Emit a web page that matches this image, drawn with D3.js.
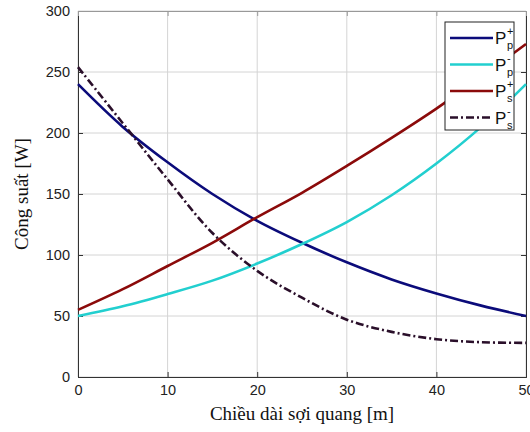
<!DOCTYPE html>
<html>
<head>
<meta charset="utf-8">
<script src="https://cdn.jsdelivr.net/npm/d3@7"></script>
<style>
  body { margin: 0; background: #fff; }
  .tick text { font-family: "Liberation Sans", Arial, sans-serif; font-size: 14.5px; fill: #222; }
</style>
</head>
<body>
<div id="chart"></div>
<script>
// fibre length [m]
var lengths = [0, 5, 10, 15, 20, 25, 30, 35, 40, 45, 50];
// power [W]
var ppPlus  = [240, 205, 176, 150, 128, 110, 94, 80, 68.5, 58.5, 50];
var ppMinus = [50, 58, 68, 79, 93, 109, 127, 149, 175, 205, 240];
var psPlus  = [55, 72, 91, 110, 131, 151, 173, 196, 220, 246, 273];
var psMinus = [254, 208, 162, 118, 87, 65, 47, 37, 31, 28.5, 28];
var xTicks = [0, 10, 20, 30, 40, 50];
var yTicks = [0, 50, 100, 150, 200, 250, 300];

function draw() {
  var series = [
    {sup: "+", sub: "p", values: ppPlus,  color: "#0b0b7a", dash: null},
    {sup: "-", sub: "p", values: ppMinus, color: "#22cfcf", dash: null},
    {sup: "+", sub: "s", values: psPlus,  color: "#8b0a0a", dash: null},
    {sup: "-", sub: "s", values: psMinus, color: "#2a0f2a", dash: "8,3,2,3"}
  ];

  var w = 530, h = 432,
      x0 = 78, x1 = 526, y0 = 11, y1 = 377;

  var x = d3.scaleLinear().domain([0, 50]).range([x0, x1]);
  var y = d3.scaleLinear().domain([0, 300]).range([y1, y0]);

  var svg = d3.select("#chart").append("svg")
        .attr("width", w)
        .attr("height", h);

  // grid
  svg.append("g")
    .selectAll("line")
    .data(xTicks)
    .enter().append("line")
    .attr("x1", (d) => x(d)).attr("x2", (d) => x(d))
    .attr("y1", y0).attr("y2", y1)
    .attr("stroke", "#d4d4d4").attr("stroke-width", 1);
  svg.append("g")
    .selectAll("line")
    .data(yTicks)
    .enter().append("line")
    .attr("x1", x0).attr("x2", x1)
    .attr("y1", (d) => y(d)).attr("y2", (d) => y(d))
    .attr("stroke", "#d4d4d4").attr("stroke-width", 1);

  // axes
  svg.append("g")
    .attr("transform", "translate(0," + y1 + ")")
    .call(d3.axisBottom(x).tickValues(xTicks).tickSize(-5).tickPadding(8))
    .call((g) => g.select(".domain").attr("stroke", "#333"))
    .call((g) => g.selectAll(".tick line").attr("stroke", "#333"));
  svg.append("g")
    .attr("transform", "translate(" + x0 + ",0)")
    .call(d3.axisLeft(y).tickValues(yTicks).tickSize(-5).tickPadding(8))
    .call((g) => g.select(".domain").attr("stroke", "#333"))
    .call((g) => g.selectAll(".tick line").attr("stroke", "#333"));
  svg.append("g")
    .attr("transform", "translate(" + x1 + ",0)")
    .call(d3.axisRight(y).tickValues(yTicks).tickSize(-5).tickFormat(""))
    .call((g) => g.select(".domain").attr("stroke", "#333"))
    .call((g) => g.selectAll(".tick line").attr("stroke", "#333"));
  svg.append("g")
    .attr("transform", "translate(0," + y0 + ")")
    .call(d3.axisTop(x).tickValues(xTicks).tickSize(-5).tickFormat(""))
    .call((g) => g.select(".domain").attr("stroke", "#999"))
    .call((g) => g.selectAll(".tick line").attr("stroke", "#999"));

  // lines
  var line = d3.line()
        .x((d, i) => x(lengths[i]))
        .y((d) => y(d))
        .curve(d3.curveCatmullRom.alpha(0.5));

  svg.append("g")
    .selectAll("path")
    .data(series)
    .enter().append("path")
    .attr("d", (d) => line(d.values))
    .attr("fill", "none")
    .attr("stroke", (d) => d.color)
    .attr("stroke-width", 2.6)
    .attr("stroke-dasharray", (d) => d.dash);

  // axis titles
  svg.append("text")
    .attr("x", 302).attr("y", 420)
    .attr("text-anchor", "middle")
    .style("font-family", "'Liberation Serif', 'Times New Roman', serif")
    .style("font-size", "19px")
    .attr("fill", "#111")
    .text("Chiều dài sợi quang [m]");
  svg.append("text")
    .attr("transform", "translate(28," + ((y0 + y1) / 2) + ") rotate(-90)")
    .attr("text-anchor", "middle")
    .style("font-family", "'Liberation Serif', 'Times New Roman', serif")
    .style("font-size", "19px")
    .attr("fill", "#111")
    .text("Công suất [W]");

  // legend
  var lg = svg.append("g").attr("transform", "translate(445,22)");
  lg.append("rect")
    .attr("width", 69).attr("height", 108)
    .attr("fill", "#fff").attr("stroke", "#222").attr("stroke-width", 1);

  var item = lg.selectAll("g.item")
        .data(series)
        .enter().append("g")
        .attr("class", "item")
        .attr("transform", (d, i) => "translate(0," + (16 + i * 26.5) + ")");
  item.append("line")
    .attr("x1", 5).attr("x2", 48)
    .attr("stroke", (d) => d.color)
    .attr("stroke-width", 2.6)
    .attr("stroke-dasharray", (d) => d.dash);
  var lt = item.append("text")
        .attr("x", 50).attr("y", 6)
        .style("font-family", "'Liberation Sans', Arial, sans-serif")
        .attr("fill", "#111");
  lt.append("tspan").style("font-size", "17px").text("P");
  lt.append("tspan").attr("x", 62).attr("dy", -9).style("font-size", "11px").text((d) => d.sup);
  lt.append("tspan").attr("x", 62).attr("dy", 14).style("font-size", "11px").text((d) => d.sub);
}

draw();
</script>
</body>
</html>
